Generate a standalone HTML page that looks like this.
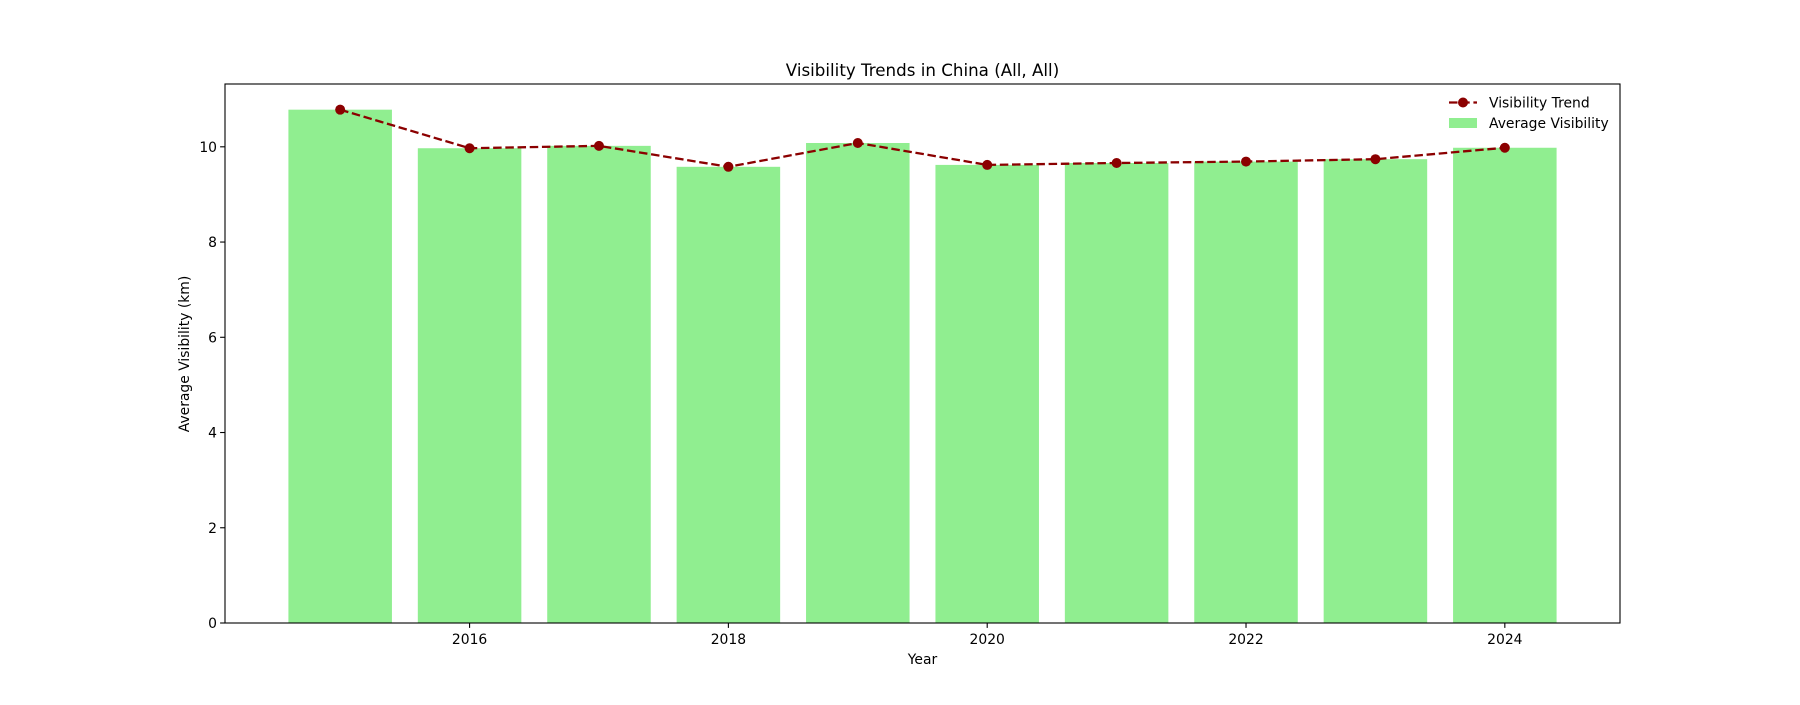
<!DOCTYPE html>
<html><head><meta charset="utf-8"><style>
body{margin:0;background:#fff;}
svg text{font-family:"DejaVu Sans","Liberation Sans",sans-serif;fill:#000;}
</style></head><body>
<svg id="chart" width="1800" height="700" xmlns="http://www.w3.org/2000/svg">
<rect width="1800" height="700" fill="#fff"/>
<text x="922.5" y="76" font-size="16.7" text-anchor="middle">Visibility Trends in China (All, All)</text>
<g id="bars"></g><g id="line"></g><g id="axes"></g>
<text x="922.5" y="664" font-size="13.9" text-anchor="middle">Year</text>
<text transform="translate(189,354) rotate(-90)" font-size="13.9" text-anchor="middle">Average Visibility (km)</text>
<g>
<line x1="1449" y1="102.5" x2="1477" y2="102.5" stroke="#8b0000" stroke-width="2.3" stroke-dasharray="8.5,3.7"/>
<circle cx="1463" cy="102.5" r="5" fill="#8b0000"/>
<text x="1489" y="107.5" font-size="13.9">Visibility Trend</text>
<rect x="1449" y="118" width="28" height="10" fill="#90ee90"/>
<text x="1489" y="128" font-size="13.9">Average Visibility</text>
</g>
</svg>
<script>
const years=[2015,2016,2017,2018,2019,2020,2021,2022,2023,2024];
const visibility=[10.78,9.97,10.02,9.58,10.08,9.62,9.66,9.69,9.74,9.98];
const yTicks=[0,2,4,6,8,10];
const xTicks=[2016,2018,2020,2022,2024];
const L=225,R=1620,T=84,B=623;
const xmin=Math.min(...years)-0.4,xmax=Math.max(...years)+0.4,pad=(xmax-xmin)*0.05;
const x0=xmin-pad,x1=xmax+pad;
const ymax=Math.max(...visibility)*1.05;
const sx=v=>L+(v-x0)/(x1-x0)*(R-L);
const sy=v=>B-v/ymax*(B-T);
const NS="http://www.w3.org/2000/svg";
function mk(t,a,p){const e=document.createElementNS(NS,t);for(const k in a)e.setAttribute(k,a[k]);p.appendChild(e);return e;}
const gb=document.getElementById('bars'),gl=document.getElementById('line'),ga=document.getElementById('axes');
years.forEach((y,i)=>{
 const r=mk('rect',{x:sx(y-0.4),y:sy(visibility[i]),width:sx(y+0.4)-sx(y-0.4),height:B-sy(visibility[i]),fill:'#90ee90'},gb);
 
 
});
const pl=mk('polyline',{points:years.map((y,i)=>sx(y)+','+sy(visibility[i])).join(' '),fill:'none',stroke:'#8b0000','stroke-width':2.3,'stroke-dasharray':'8.5,3.7'},gl);


years.forEach((y,i)=>{
 const c=mk('circle',{cx:sx(y),cy:sy(visibility[i]),r:5,fill:'#8b0000'},gl);
 
 
});
const fr=mk('rect',{x:L,y:T,width:R-L,height:B-T,fill:'none',stroke:'#000','stroke-width':1.1},ga);


yTicks.forEach(v=>{
 mk('line',{x1:L-4.9,x2:L,y1:sy(v),y2:sy(v),stroke:'#000','stroke-width':1.1},ga);
 const t=mk('text',{x:L-8,y:sy(v)+5,'font-size':13.9,'text-anchor':'end'},ga);t.textContent=v;
 
 
});
xTicks.forEach(v=>{
 mk('line',{x1:sx(v),x2:sx(v),y1:B,y2:B+4.9,stroke:'#000','stroke-width':1.1},ga);
 const t=mk('text',{x:sx(v),y:B+21,'font-size':13.9,'text-anchor':'middle'},ga);t.textContent=v;
 
 
});
</script>
</body></html>
